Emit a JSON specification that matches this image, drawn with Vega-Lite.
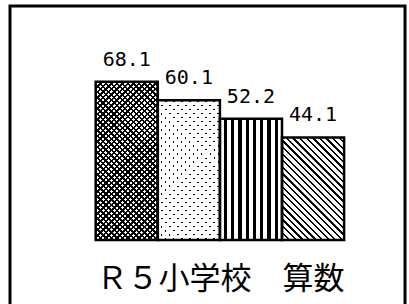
{
"$schema": "https://vega.github.io/schema/vega-lite/v6.json",
"width": 395, "height": 300,
"autosize": {"type": "none"},
"padding": {"left": 10, "top": 6, "right": 4, "bottom": -2},
"background": "#ffffff",
"config": {"view": {"stroke": "#000000", "strokeWidth": 3}},
"data": {"values": [
 {"k": "a", "v": 68.1},
 {"k": "b", "v": 60.1},
 {"k": "c", "v": 52.2},
 {"k": "d", "v": 44.1}
]},
"encoding": {
 "x": {"field": "k", "type": "nominal", "sort": null,
   "scale": {"range": [85.7, 334.1], "paddingInner": 0, "paddingOuter": 0},
   "axis": {"labels": false, "ticks": false, "domain": false, "grid": false,
     "title": "Ｒ５小学校　算数", "titleFont": "Noto Sans CJK JP", "titleFontSize": 31,
     "titleFontWeight": "normal", "titleColor": "#000000", "titleX": 209.9, "titleY": -18,
     "titleAlign": "center", "titleBaseline": "alphabetic"}},
 "y": {"field": "v", "type": "quantitative", "scale": {"domain": [0, 100], "range": [234, 1.5]}, "axis": null}
},
"layer": [
 {"mark": {"type": "bar"},
  "encoding": {"fill": {"condition": [
   {"test": "datum.k == 'b'", "value": "#000000"},
   {"test": "datum.k == 'c'", "value": {"gradient": "linear", "x1": 0, "y1": 0, "x2": 1, "y2": 0, "stops": [
{"offset":0,"color":"#fff"},{"offset":0.0635,"color":"#fff"},{"offset":0.0635,"color":"#000"},{"offset":0.117,"color":"#000"},
{"offset":0.117,"color":"#fff"},{"offset":0.1805,"color":"#fff"},{"offset":0.1805,"color":"#000"},{"offset":0.234,"color":"#000"},
{"offset":0.234,"color":"#fff"},{"offset":0.2975,"color":"#fff"},{"offset":0.2975,"color":"#000"},{"offset":0.351,"color":"#000"},
{"offset":0.351,"color":"#fff"},{"offset":0.4145,"color":"#fff"},{"offset":0.4145,"color":"#000"},{"offset":0.468,"color":"#000"},
{"offset":0.468,"color":"#fff"},{"offset":0.5315,"color":"#fff"},{"offset":0.5315,"color":"#000"},{"offset":0.585,"color":"#000"},
{"offset":0.585,"color":"#fff"},{"offset":0.6485,"color":"#fff"},{"offset":0.6485,"color":"#000"},{"offset":0.702,"color":"#000"},
{"offset":0.702,"color":"#fff"},{"offset":0.7655,"color":"#fff"},{"offset":0.7655,"color":"#000"},{"offset":0.819,"color":"#000"},
{"offset":0.819,"color":"#fff"},{"offset":0.8825,"color":"#fff"},{"offset":0.8825,"color":"#000"},{"offset":0.936,"color":"#000"},
{"offset":0.936,"color":"#fff"},{"offset":1,"color":"#fff"}]}},
   {"test": "datum.k == 'd'", "value": {"gradient": "linear", "x1": 0, "y1": 1, "x2": 0.7115, "y2": -0.1747, "stops": [
{"offset":0,"color":"#000"},{"offset":0.014,"color":"#000"},{"offset":0.014,"color":"#fff"},{"offset":0.04,"color":"#fff"},
{"offset":0.04,"color":"#000"},{"offset":0.054,"color":"#000"},{"offset":0.054,"color":"#fff"},{"offset":0.08,"color":"#fff"},
{"offset":0.08,"color":"#000"},{"offset":0.094,"color":"#000"},{"offset":0.094,"color":"#fff"},{"offset":0.12,"color":"#fff"},
{"offset":0.12,"color":"#000"},{"offset":0.134,"color":"#000"},{"offset":0.134,"color":"#fff"},{"offset":0.16,"color":"#fff"},
{"offset":0.16,"color":"#000"},{"offset":0.174,"color":"#000"},{"offset":0.174,"color":"#fff"},{"offset":0.2,"color":"#fff"},
{"offset":0.2,"color":"#000"},{"offset":0.214,"color":"#000"},{"offset":0.214,"color":"#fff"},{"offset":0.24,"color":"#fff"},
{"offset":0.24,"color":"#000"},{"offset":0.254,"color":"#000"},{"offset":0.254,"color":"#fff"},{"offset":0.28,"color":"#fff"},
{"offset":0.28,"color":"#000"},{"offset":0.294,"color":"#000"},{"offset":0.294,"color":"#fff"},{"offset":0.32,"color":"#fff"},
{"offset":0.32,"color":"#000"},{"offset":0.334,"color":"#000"},{"offset":0.334,"color":"#fff"},{"offset":0.36,"color":"#fff"},
{"offset":0.36,"color":"#000"},{"offset":0.374,"color":"#000"},{"offset":0.374,"color":"#fff"},{"offset":0.4,"color":"#fff"},
{"offset":0.4,"color":"#000"},{"offset":0.414,"color":"#000"},{"offset":0.414,"color":"#fff"},{"offset":0.44,"color":"#fff"},
{"offset":0.44,"color":"#000"},{"offset":0.454,"color":"#000"},{"offset":0.454,"color":"#fff"},{"offset":0.48,"color":"#fff"},
{"offset":0.48,"color":"#000"},{"offset":0.494,"color":"#000"},{"offset":0.494,"color":"#fff"},{"offset":0.52,"color":"#fff"},
{"offset":0.52,"color":"#000"},{"offset":0.534,"color":"#000"},{"offset":0.534,"color":"#fff"},{"offset":0.56,"color":"#fff"},
{"offset":0.56,"color":"#000"},{"offset":0.574,"color":"#000"},{"offset":0.574,"color":"#fff"},{"offset":0.6,"color":"#fff"},
{"offset":0.6,"color":"#000"},{"offset":0.614,"color":"#000"},{"offset":0.614,"color":"#fff"},{"offset":0.64,"color":"#fff"},
{"offset":0.64,"color":"#000"},{"offset":0.654,"color":"#000"},{"offset":0.654,"color":"#fff"},{"offset":0.68,"color":"#fff"},
{"offset":0.68,"color":"#000"},{"offset":0.694,"color":"#000"},{"offset":0.694,"color":"#fff"},{"offset":0.72,"color":"#fff"},
{"offset":0.72,"color":"#000"},{"offset":0.734,"color":"#000"},{"offset":0.734,"color":"#fff"},{"offset":0.76,"color":"#fff"},
{"offset":0.76,"color":"#000"},{"offset":0.774,"color":"#000"},{"offset":0.774,"color":"#fff"},{"offset":0.8,"color":"#fff"},
{"offset":0.8,"color":"#000"},{"offset":0.814,"color":"#000"},{"offset":0.814,"color":"#fff"},{"offset":0.84,"color":"#fff"},
{"offset":0.84,"color":"#000"},{"offset":0.854,"color":"#000"},{"offset":0.854,"color":"#fff"},{"offset":0.88,"color":"#fff"},
{"offset":0.88,"color":"#000"},{"offset":0.894,"color":"#000"},{"offset":0.894,"color":"#fff"},{"offset":0.92,"color":"#fff"},
{"offset":0.92,"color":"#000"},{"offset":0.934,"color":"#000"},{"offset":0.934,"color":"#fff"},{"offset":0.96,"color":"#fff"},
{"offset":0.96,"color":"#000"},{"offset":0.974,"color":"#000"},{"offset":0.974,"color":"#fff"},{"offset":1,"color":"#fff"}]}}
  ], "value": "#ffffff"}}},
 {"transform": [{"filter": "datum.k == 'a' || datum.k == 'b'"}],
  "mark": {"type": "bar"},
  "encoding": {"fill": {"condition": {"test": "datum.k == 'a'", "value": {"gradient": "linear", "x1": 0, "y1": 1, "x2": 0.4733, "y2": -0.2066, "stops": [
{"offset":0,"color":"#000"},{"offset":0.011,"color":"#000"},{"offset":0.011,"color":"transparent"},{"offset":0.025,"color":"transparent"},
{"offset":0.025,"color":"#000"},{"offset":0.036,"color":"#000"},{"offset":0.036,"color":"transparent"},{"offset":0.05,"color":"transparent"},
{"offset":0.05,"color":"#000"},{"offset":0.061,"color":"#000"},{"offset":0.061,"color":"transparent"},{"offset":0.075,"color":"transparent"},
{"offset":0.075,"color":"#000"},{"offset":0.086,"color":"#000"},{"offset":0.086,"color":"transparent"},{"offset":0.1,"color":"transparent"},
{"offset":0.1,"color":"#000"},{"offset":0.111,"color":"#000"},{"offset":0.111,"color":"transparent"},{"offset":0.125,"color":"transparent"},
{"offset":0.125,"color":"#000"},{"offset":0.136,"color":"#000"},{"offset":0.136,"color":"transparent"},{"offset":0.15,"color":"transparent"},
{"offset":0.15,"color":"#000"},{"offset":0.161,"color":"#000"},{"offset":0.161,"color":"transparent"},{"offset":0.175,"color":"transparent"},
{"offset":0.175,"color":"#000"},{"offset":0.186,"color":"#000"},{"offset":0.186,"color":"transparent"},{"offset":0.2,"color":"transparent"},
{"offset":0.2,"color":"#000"},{"offset":0.211,"color":"#000"},{"offset":0.211,"color":"transparent"},{"offset":0.225,"color":"transparent"},
{"offset":0.225,"color":"#000"},{"offset":0.236,"color":"#000"},{"offset":0.236,"color":"transparent"},{"offset":0.25,"color":"transparent"},
{"offset":0.25,"color":"#000"},{"offset":0.261,"color":"#000"},{"offset":0.261,"color":"transparent"},{"offset":0.275,"color":"transparent"},
{"offset":0.275,"color":"#000"},{"offset":0.286,"color":"#000"},{"offset":0.286,"color":"transparent"},{"offset":0.3,"color":"transparent"},
{"offset":0.3,"color":"#000"},{"offset":0.311,"color":"#000"},{"offset":0.311,"color":"transparent"},{"offset":0.325,"color":"transparent"},
{"offset":0.325,"color":"#000"},{"offset":0.336,"color":"#000"},{"offset":0.336,"color":"transparent"},{"offset":0.35,"color":"transparent"},
{"offset":0.35,"color":"#000"},{"offset":0.361,"color":"#000"},{"offset":0.361,"color":"transparent"},{"offset":0.375,"color":"transparent"},
{"offset":0.375,"color":"#000"},{"offset":0.386,"color":"#000"},{"offset":0.386,"color":"transparent"},{"offset":0.4,"color":"transparent"},
{"offset":0.4,"color":"#000"},{"offset":0.411,"color":"#000"},{"offset":0.411,"color":"transparent"},{"offset":0.425,"color":"transparent"},
{"offset":0.425,"color":"#000"},{"offset":0.436,"color":"#000"},{"offset":0.436,"color":"transparent"},{"offset":0.45,"color":"transparent"},
{"offset":0.45,"color":"#000"},{"offset":0.461,"color":"#000"},{"offset":0.461,"color":"transparent"},{"offset":0.475,"color":"transparent"},
{"offset":0.475,"color":"#000"},{"offset":0.486,"color":"#000"},{"offset":0.486,"color":"transparent"},{"offset":0.5,"color":"transparent"},
{"offset":0.5,"color":"#000"},{"offset":0.511,"color":"#000"},{"offset":0.511,"color":"transparent"},{"offset":0.525,"color":"transparent"},
{"offset":0.525,"color":"#000"},{"offset":0.536,"color":"#000"},{"offset":0.536,"color":"transparent"},{"offset":0.55,"color":"transparent"},
{"offset":0.55,"color":"#000"},{"offset":0.561,"color":"#000"},{"offset":0.561,"color":"transparent"},{"offset":0.575,"color":"transparent"},
{"offset":0.575,"color":"#000"},{"offset":0.586,"color":"#000"},{"offset":0.586,"color":"transparent"},{"offset":0.6,"color":"transparent"},
{"offset":0.6,"color":"#000"},{"offset":0.611,"color":"#000"},{"offset":0.611,"color":"transparent"},{"offset":0.625,"color":"transparent"},
{"offset":0.625,"color":"#000"},{"offset":0.636,"color":"#000"},{"offset":0.636,"color":"transparent"},{"offset":0.65,"color":"transparent"},
{"offset":0.65,"color":"#000"},{"offset":0.661,"color":"#000"},{"offset":0.661,"color":"transparent"},{"offset":0.675,"color":"transparent"},
{"offset":0.675,"color":"#000"},{"offset":0.686,"color":"#000"},{"offset":0.686,"color":"transparent"},{"offset":0.7,"color":"transparent"},
{"offset":0.7,"color":"#000"},{"offset":0.711,"color":"#000"},{"offset":0.711,"color":"transparent"},{"offset":0.725,"color":"transparent"},
{"offset":0.725,"color":"#000"},{"offset":0.736,"color":"#000"},{"offset":0.736,"color":"transparent"},{"offset":0.75,"color":"transparent"},
{"offset":0.75,"color":"#000"},{"offset":0.761,"color":"#000"},{"offset":0.761,"color":"transparent"},{"offset":0.775,"color":"transparent"},
{"offset":0.775,"color":"#000"},{"offset":0.786,"color":"#000"},{"offset":0.786,"color":"transparent"},{"offset":0.8,"color":"transparent"},
{"offset":0.8,"color":"#000"},{"offset":0.811,"color":"#000"},{"offset":0.811,"color":"transparent"},{"offset":0.825,"color":"transparent"},
{"offset":0.825,"color":"#000"},{"offset":0.836,"color":"#000"},{"offset":0.836,"color":"transparent"},{"offset":0.85,"color":"transparent"},
{"offset":0.85,"color":"#000"},{"offset":0.861,"color":"#000"},{"offset":0.861,"color":"transparent"},{"offset":0.875,"color":"transparent"},
{"offset":0.875,"color":"#000"},{"offset":0.886,"color":"#000"},{"offset":0.886,"color":"transparent"},{"offset":0.9,"color":"transparent"},
{"offset":0.9,"color":"#000"},{"offset":0.911,"color":"#000"},{"offset":0.911,"color":"transparent"},{"offset":0.925,"color":"transparent"},
{"offset":0.925,"color":"#000"},{"offset":0.936,"color":"#000"},{"offset":0.936,"color":"transparent"},{"offset":0.95,"color":"transparent"},
{"offset":0.95,"color":"#000"},{"offset":0.961,"color":"#000"},{"offset":0.961,"color":"transparent"},{"offset":0.975,"color":"transparent"},
{"offset":0.975,"color":"#000"},{"offset":0.986,"color":"#000"},{"offset":0.986,"color":"transparent"},{"offset":1,"color":"transparent"}]}},
  "value": {"gradient": "linear", "x1": 0, "y1": 1, "x2": 0.5361, "y2": -0.2062, "stops": [
{"offset":0,"color":"transparent"},{"offset":0.01,"color":"transparent"},{"offset":0.01,"color":"#fff"},{"offset":0.04,"color":"#fff"},
{"offset":0.04,"color":"transparent"},{"offset":0.05,"color":"transparent"},{"offset":0.05,"color":"#fff"},{"offset":0.08,"color":"#fff"},
{"offset":0.08,"color":"transparent"},{"offset":0.09,"color":"transparent"},{"offset":0.09,"color":"#fff"},{"offset":0.12,"color":"#fff"},
{"offset":0.12,"color":"transparent"},{"offset":0.13,"color":"transparent"},{"offset":0.13,"color":"#fff"},{"offset":0.16,"color":"#fff"},
{"offset":0.16,"color":"transparent"},{"offset":0.17,"color":"transparent"},{"offset":0.17,"color":"#fff"},{"offset":0.2,"color":"#fff"},
{"offset":0.2,"color":"transparent"},{"offset":0.21,"color":"transparent"},{"offset":0.21,"color":"#fff"},{"offset":0.24,"color":"#fff"},
{"offset":0.24,"color":"transparent"},{"offset":0.25,"color":"transparent"},{"offset":0.25,"color":"#fff"},{"offset":0.28,"color":"#fff"},
{"offset":0.28,"color":"transparent"},{"offset":0.29,"color":"transparent"},{"offset":0.29,"color":"#fff"},{"offset":0.32,"color":"#fff"},
{"offset":0.32,"color":"transparent"},{"offset":0.33,"color":"transparent"},{"offset":0.33,"color":"#fff"},{"offset":0.36,"color":"#fff"},
{"offset":0.36,"color":"transparent"},{"offset":0.37,"color":"transparent"},{"offset":0.37,"color":"#fff"},{"offset":0.4,"color":"#fff"},
{"offset":0.4,"color":"transparent"},{"offset":0.41,"color":"transparent"},{"offset":0.41,"color":"#fff"},{"offset":0.44,"color":"#fff"},
{"offset":0.44,"color":"transparent"},{"offset":0.45,"color":"transparent"},{"offset":0.45,"color":"#fff"},{"offset":0.48,"color":"#fff"},
{"offset":0.48,"color":"transparent"},{"offset":0.49,"color":"transparent"},{"offset":0.49,"color":"#fff"},{"offset":0.52,"color":"#fff"},
{"offset":0.52,"color":"transparent"},{"offset":0.53,"color":"transparent"},{"offset":0.53,"color":"#fff"},{"offset":0.56,"color":"#fff"},
{"offset":0.56,"color":"transparent"},{"offset":0.57,"color":"transparent"},{"offset":0.57,"color":"#fff"},{"offset":0.6,"color":"#fff"},
{"offset":0.6,"color":"transparent"},{"offset":0.61,"color":"transparent"},{"offset":0.61,"color":"#fff"},{"offset":0.64,"color":"#fff"},
{"offset":0.64,"color":"transparent"},{"offset":0.65,"color":"transparent"},{"offset":0.65,"color":"#fff"},{"offset":0.68,"color":"#fff"},
{"offset":0.68,"color":"transparent"},{"offset":0.69,"color":"transparent"},{"offset":0.69,"color":"#fff"},{"offset":0.72,"color":"#fff"},
{"offset":0.72,"color":"transparent"},{"offset":0.73,"color":"transparent"},{"offset":0.73,"color":"#fff"},{"offset":0.76,"color":"#fff"},
{"offset":0.76,"color":"transparent"},{"offset":0.77,"color":"transparent"},{"offset":0.77,"color":"#fff"},{"offset":0.8,"color":"#fff"},
{"offset":0.8,"color":"transparent"},{"offset":0.81,"color":"transparent"},{"offset":0.81,"color":"#fff"},{"offset":0.84,"color":"#fff"},
{"offset":0.84,"color":"transparent"},{"offset":0.85,"color":"transparent"},{"offset":0.85,"color":"#fff"},{"offset":0.88,"color":"#fff"},
{"offset":0.88,"color":"transparent"},{"offset":0.89,"color":"transparent"},{"offset":0.89,"color":"#fff"},{"offset":0.92,"color":"#fff"},
{"offset":0.92,"color":"transparent"},{"offset":0.93,"color":"transparent"},{"offset":0.93,"color":"#fff"},{"offset":0.96,"color":"#fff"},
{"offset":0.96,"color":"transparent"},{"offset":0.97,"color":"transparent"},{"offset":0.97,"color":"#fff"},{"offset":1,"color":"#fff"}]}}}},
 {"transform": [{"filter": "datum.k == 'a' || datum.k == 'b'"}],
  "mark": {"type": "bar"},
  "encoding": {"fill": {"condition": {"test": "datum.k == 'a'", "value": {"gradient": "linear", "x1": 0, "y1": 0, "x2": 0.4733, "y2": 1.2066, "stops": [
{"offset":0,"color":"#000"},{"offset":0.011,"color":"#000"},{"offset":0.011,"color":"transparent"},{"offset":0.025,"color":"transparent"},
{"offset":0.025,"color":"#000"},{"offset":0.036,"color":"#000"},{"offset":0.036,"color":"transparent"},{"offset":0.05,"color":"transparent"},
{"offset":0.05,"color":"#000"},{"offset":0.061,"color":"#000"},{"offset":0.061,"color":"transparent"},{"offset":0.075,"color":"transparent"},
{"offset":0.075,"color":"#000"},{"offset":0.086,"color":"#000"},{"offset":0.086,"color":"transparent"},{"offset":0.1,"color":"transparent"},
{"offset":0.1,"color":"#000"},{"offset":0.111,"color":"#000"},{"offset":0.111,"color":"transparent"},{"offset":0.125,"color":"transparent"},
{"offset":0.125,"color":"#000"},{"offset":0.136,"color":"#000"},{"offset":0.136,"color":"transparent"},{"offset":0.15,"color":"transparent"},
{"offset":0.15,"color":"#000"},{"offset":0.161,"color":"#000"},{"offset":0.161,"color":"transparent"},{"offset":0.175,"color":"transparent"},
{"offset":0.175,"color":"#000"},{"offset":0.186,"color":"#000"},{"offset":0.186,"color":"transparent"},{"offset":0.2,"color":"transparent"},
{"offset":0.2,"color":"#000"},{"offset":0.211,"color":"#000"},{"offset":0.211,"color":"transparent"},{"offset":0.225,"color":"transparent"},
{"offset":0.225,"color":"#000"},{"offset":0.236,"color":"#000"},{"offset":0.236,"color":"transparent"},{"offset":0.25,"color":"transparent"},
{"offset":0.25,"color":"#000"},{"offset":0.261,"color":"#000"},{"offset":0.261,"color":"transparent"},{"offset":0.275,"color":"transparent"},
{"offset":0.275,"color":"#000"},{"offset":0.286,"color":"#000"},{"offset":0.286,"color":"transparent"},{"offset":0.3,"color":"transparent"},
{"offset":0.3,"color":"#000"},{"offset":0.311,"color":"#000"},{"offset":0.311,"color":"transparent"},{"offset":0.325,"color":"transparent"},
{"offset":0.325,"color":"#000"},{"offset":0.336,"color":"#000"},{"offset":0.336,"color":"transparent"},{"offset":0.35,"color":"transparent"},
{"offset":0.35,"color":"#000"},{"offset":0.361,"color":"#000"},{"offset":0.361,"color":"transparent"},{"offset":0.375,"color":"transparent"},
{"offset":0.375,"color":"#000"},{"offset":0.386,"color":"#000"},{"offset":0.386,"color":"transparent"},{"offset":0.4,"color":"transparent"},
{"offset":0.4,"color":"#000"},{"offset":0.411,"color":"#000"},{"offset":0.411,"color":"transparent"},{"offset":0.425,"color":"transparent"},
{"offset":0.425,"color":"#000"},{"offset":0.436,"color":"#000"},{"offset":0.436,"color":"transparent"},{"offset":0.45,"color":"transparent"},
{"offset":0.45,"color":"#000"},{"offset":0.461,"color":"#000"},{"offset":0.461,"color":"transparent"},{"offset":0.475,"color":"transparent"},
{"offset":0.475,"color":"#000"},{"offset":0.486,"color":"#000"},{"offset":0.486,"color":"transparent"},{"offset":0.5,"color":"transparent"},
{"offset":0.5,"color":"#000"},{"offset":0.511,"color":"#000"},{"offset":0.511,"color":"transparent"},{"offset":0.525,"color":"transparent"},
{"offset":0.525,"color":"#000"},{"offset":0.536,"color":"#000"},{"offset":0.536,"color":"transparent"},{"offset":0.55,"color":"transparent"},
{"offset":0.55,"color":"#000"},{"offset":0.561,"color":"#000"},{"offset":0.561,"color":"transparent"},{"offset":0.575,"color":"transparent"},
{"offset":0.575,"color":"#000"},{"offset":0.586,"color":"#000"},{"offset":0.586,"color":"transparent"},{"offset":0.6,"color":"transparent"},
{"offset":0.6,"color":"#000"},{"offset":0.611,"color":"#000"},{"offset":0.611,"color":"transparent"},{"offset":0.625,"color":"transparent"},
{"offset":0.625,"color":"#000"},{"offset":0.636,"color":"#000"},{"offset":0.636,"color":"transparent"},{"offset":0.65,"color":"transparent"},
{"offset":0.65,"color":"#000"},{"offset":0.661,"color":"#000"},{"offset":0.661,"color":"transparent"},{"offset":0.675,"color":"transparent"},
{"offset":0.675,"color":"#000"},{"offset":0.686,"color":"#000"},{"offset":0.686,"color":"transparent"},{"offset":0.7,"color":"transparent"},
{"offset":0.7,"color":"#000"},{"offset":0.711,"color":"#000"},{"offset":0.711,"color":"transparent"},{"offset":0.725,"color":"transparent"},
{"offset":0.725,"color":"#000"},{"offset":0.736,"color":"#000"},{"offset":0.736,"color":"transparent"},{"offset":0.75,"color":"transparent"},
{"offset":0.75,"color":"#000"},{"offset":0.761,"color":"#000"},{"offset":0.761,"color":"transparent"},{"offset":0.775,"color":"transparent"},
{"offset":0.775,"color":"#000"},{"offset":0.786,"color":"#000"},{"offset":0.786,"color":"transparent"},{"offset":0.8,"color":"transparent"},
{"offset":0.8,"color":"#000"},{"offset":0.811,"color":"#000"},{"offset":0.811,"color":"transparent"},{"offset":0.825,"color":"transparent"},
{"offset":0.825,"color":"#000"},{"offset":0.836,"color":"#000"},{"offset":0.836,"color":"transparent"},{"offset":0.85,"color":"transparent"},
{"offset":0.85,"color":"#000"},{"offset":0.861,"color":"#000"},{"offset":0.861,"color":"transparent"},{"offset":0.875,"color":"transparent"},
{"offset":0.875,"color":"#000"},{"offset":0.886,"color":"#000"},{"offset":0.886,"color":"transparent"},{"offset":0.9,"color":"transparent"},
{"offset":0.9,"color":"#000"},{"offset":0.911,"color":"#000"},{"offset":0.911,"color":"transparent"},{"offset":0.925,"color":"transparent"},
{"offset":0.925,"color":"#000"},{"offset":0.936,"color":"#000"},{"offset":0.936,"color":"transparent"},{"offset":0.95,"color":"transparent"},
{"offset":0.95,"color":"#000"},{"offset":0.961,"color":"#000"},{"offset":0.961,"color":"transparent"},{"offset":0.975,"color":"transparent"},
{"offset":0.975,"color":"#000"},{"offset":0.986,"color":"#000"},{"offset":0.986,"color":"transparent"},{"offset":1,"color":"transparent"}]}},
  "value": {"gradient": "linear", "x1": 0, "y1": 0, "x2": 0.5361, "y2": 1.2062, "stops": [
{"offset":0,"color":"transparent"},{"offset":0.01,"color":"transparent"},{"offset":0.01,"color":"#fff"},{"offset":0.04,"color":"#fff"},
{"offset":0.04,"color":"transparent"},{"offset":0.05,"color":"transparent"},{"offset":0.05,"color":"#fff"},{"offset":0.08,"color":"#fff"},
{"offset":0.08,"color":"transparent"},{"offset":0.09,"color":"transparent"},{"offset":0.09,"color":"#fff"},{"offset":0.12,"color":"#fff"},
{"offset":0.12,"color":"transparent"},{"offset":0.13,"color":"transparent"},{"offset":0.13,"color":"#fff"},{"offset":0.16,"color":"#fff"},
{"offset":0.16,"color":"transparent"},{"offset":0.17,"color":"transparent"},{"offset":0.17,"color":"#fff"},{"offset":0.2,"color":"#fff"},
{"offset":0.2,"color":"transparent"},{"offset":0.21,"color":"transparent"},{"offset":0.21,"color":"#fff"},{"offset":0.24,"color":"#fff"},
{"offset":0.24,"color":"transparent"},{"offset":0.25,"color":"transparent"},{"offset":0.25,"color":"#fff"},{"offset":0.28,"color":"#fff"},
{"offset":0.28,"color":"transparent"},{"offset":0.29,"color":"transparent"},{"offset":0.29,"color":"#fff"},{"offset":0.32,"color":"#fff"},
{"offset":0.32,"color":"transparent"},{"offset":0.33,"color":"transparent"},{"offset":0.33,"color":"#fff"},{"offset":0.36,"color":"#fff"},
{"offset":0.36,"color":"transparent"},{"offset":0.37,"color":"transparent"},{"offset":0.37,"color":"#fff"},{"offset":0.4,"color":"#fff"},
{"offset":0.4,"color":"transparent"},{"offset":0.41,"color":"transparent"},{"offset":0.41,"color":"#fff"},{"offset":0.44,"color":"#fff"},
{"offset":0.44,"color":"transparent"},{"offset":0.45,"color":"transparent"},{"offset":0.45,"color":"#fff"},{"offset":0.48,"color":"#fff"},
{"offset":0.48,"color":"transparent"},{"offset":0.49,"color":"transparent"},{"offset":0.49,"color":"#fff"},{"offset":0.52,"color":"#fff"},
{"offset":0.52,"color":"transparent"},{"offset":0.53,"color":"transparent"},{"offset":0.53,"color":"#fff"},{"offset":0.56,"color":"#fff"},
{"offset":0.56,"color":"transparent"},{"offset":0.57,"color":"transparent"},{"offset":0.57,"color":"#fff"},{"offset":0.6,"color":"#fff"},
{"offset":0.6,"color":"transparent"},{"offset":0.61,"color":"transparent"},{"offset":0.61,"color":"#fff"},{"offset":0.64,"color":"#fff"},
{"offset":0.64,"color":"transparent"},{"offset":0.65,"color":"transparent"},{"offset":0.65,"color":"#fff"},{"offset":0.68,"color":"#fff"},
{"offset":0.68,"color":"transparent"},{"offset":0.69,"color":"transparent"},{"offset":0.69,"color":"#fff"},{"offset":0.72,"color":"#fff"},
{"offset":0.72,"color":"transparent"},{"offset":0.73,"color":"transparent"},{"offset":0.73,"color":"#fff"},{"offset":0.76,"color":"#fff"},
{"offset":0.76,"color":"transparent"},{"offset":0.77,"color":"transparent"},{"offset":0.77,"color":"#fff"},{"offset":0.8,"color":"#fff"},
{"offset":0.8,"color":"transparent"},{"offset":0.81,"color":"transparent"},{"offset":0.81,"color":"#fff"},{"offset":0.84,"color":"#fff"},
{"offset":0.84,"color":"transparent"},{"offset":0.85,"color":"transparent"},{"offset":0.85,"color":"#fff"},{"offset":0.88,"color":"#fff"},
{"offset":0.88,"color":"transparent"},{"offset":0.89,"color":"transparent"},{"offset":0.89,"color":"#fff"},{"offset":0.92,"color":"#fff"},
{"offset":0.92,"color":"transparent"},{"offset":0.93,"color":"transparent"},{"offset":0.93,"color":"#fff"},{"offset":0.96,"color":"#fff"},
{"offset":0.96,"color":"transparent"},{"offset":0.97,"color":"transparent"},{"offset":0.97,"color":"#fff"},{"offset":1,"color":"#fff"}]}}}},
 {"mark": {"type": "bar", "fill": "transparent", "stroke": "#000000", "strokeWidth": 2.5}},
 {"mark": {"type": "text", "dy": -16, "font": "DejaVu Sans Mono", "fontSize": 20, "baseline": "alphabetic", "align": "center", "color": "#000000"},
  "encoding": {"text": {"field": "v", "type": "quantitative", "format": ".1f"}}}
]
}
